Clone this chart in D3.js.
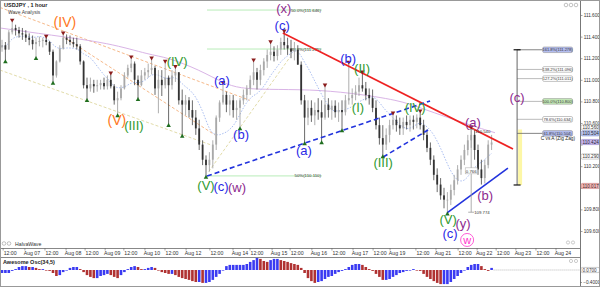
<!DOCTYPE html>
<meta charset="utf-8">
<style>
body { margin: 0; background: #fff; }
svg { display: block; font-family: "Liberation Sans", Arial, sans-serif; }
.tiny { font-size: 5.2px; fill: #333; }
.ax { font-size: 4.7px; fill: #333; }
</style>
<body>
<script src="https://d3js.org/d3.v7.min.js"></script>
<script>
var width = 600,
	height = 287,
	axisX = 580,
	priceBottom = 248,
	timeBottom = 257;

// USDJPY, 2-hour bars (Aug 06 - Aug 22)
var firstOpen = 111.30;
var closes = [
	111.32,111.28,111.44,111.48,111.46,111.43,111.42,111.39,111.37,111.33,
	111.35,111.36,111.37,111.35,111.26,111.04,111.17,111.29,111.39,111.37,
	111.35,111.33,111.31,111.17,110.95,110.92,110.96,110.94,110.95,110.97,
	110.94,111.00,110.94,110.81,110.83,110.92,111.04,111.11,111.15,111.00,
	110.95,111.04,111.07,111.09,111.11,110.92,111.00,110.95,111.02,110.95,
	111.04,111.07,110.81,110.77,110.81,110.72,110.65,110.55,110.40,110.26,
	110.21,110.26,110.40,110.65,110.79,110.86,110.77,110.81,110.72,110.74,
	110.81,110.86,110.92,111.00,111.07,111.00,111.09,111.17,111.23,111.26,
	111.22,111.28,111.35,111.32,111.29,111.26,111.28,111.14,110.81,110.65,
	110.74,110.67,110.72,110.70,110.65,110.77,110.72,110.76,110.70,110.72,
	110.70,110.81,110.83,110.86,110.89,110.95,110.92,110.86,110.83,110.74,
	110.58,110.46,110.40,110.49,110.58,110.63,110.58,110.55,110.61,110.58,
	110.63,110.61,110.65,110.58,110.49,110.37,110.26,110.12,110.03,109.93,
	109.89,109.89,109.98,110.07,110.17,110.26,110.35,110.44,110.49,110.35,
	110.17,110.09,110.21,110.40,110.42];
var highs = [
	111.37,111.35,111.46,111.54,111.51,111.49,111.48,111.46,111.43,111.41,
	111.39,111.40,111.39,111.39,111.36,111.28,111.18,111.32,111.42,111.42,
	111.41,111.39,111.39,111.33,111.18,111.02,111.02,111.00,111.00,111.00,
	111.02,111.04,111.05,110.96,110.89,110.95,111.07,111.14,111.20,111.17,
	111.04,111.09,111.11,111.15,111.19,111.13,111.09,111.09,111.16,111.04,
	111.09,111.11,111.07,110.91,110.86,110.84,110.81,110.72,110.63,110.44,
	110.30,110.33,110.44,110.67,110.81,110.96,110.89,110.86,110.86,110.81,
	110.83,110.91,110.95,111.04,111.17,111.11,111.14,111.20,111.28,111.34,
	111.31,111.32,111.39,111.44,111.39,111.37,111.35,111.32,111.17,110.86,
	110.81,110.81,110.79,110.83,110.81,110.94,110.83,110.81,110.81,110.79,
	110.81,110.86,111.15,110.92,110.95,111.02,111.06,110.98,110.92,110.91,
	110.81,110.65,110.58,110.55,110.63,110.68,110.67,110.65,110.65,110.67,
	110.67,110.67,110.68,110.70,110.63,110.54,110.42,110.30,110.18,110.09,
	110.00,109.96,110.03,110.12,110.21,110.30,110.40,110.49,110.55,110.54,
	110.40,110.26,110.26,110.44,110.49];
var lows = [
	111.26,111.18,111.28,111.42,111.41,111.39,111.37,111.35,111.32,111.28,
	111.21,111.31,111.30,111.32,111.23,110.98,111.02,111.16,111.28,111.33,
	111.32,111.30,111.28,111.14,110.92,110.82,110.89,110.88,110.89,110.91,
	110.91,110.91,110.92,110.77,110.68,110.81,110.91,111.02,111.07,110.95,
	110.83,110.94,111.00,111.02,111.05,110.86,110.69,110.85,110.92,110.59,
	110.91,110.98,110.77,110.49,110.67,110.65,110.58,110.49,110.35,110.21,
	110.11,110.15,110.18,110.35,110.61,110.77,110.70,110.67,110.65,110.63,
	110.56,110.77,110.81,110.86,110.95,110.91,110.95,111.04,111.11,111.18,
	111.17,111.18,111.23,111.28,111.23,111.20,111.18,111.14,110.77,110.42,
	110.58,110.61,110.58,110.63,110.43,110.63,110.65,110.63,110.65,110.61,
	110.54,110.67,110.77,110.77,110.81,110.85,110.89,110.81,110.77,110.70,
	110.54,110.40,110.30,110.35,110.42,110.54,110.52,110.49,110.49,110.54,
	110.52,110.54,110.55,110.54,110.44,110.33,110.21,110.07,109.96,109.89,
	109.81,109.77,109.84,109.93,110.03,110.12,110.21,110.30,110.37,110.26,
	110.12,110.03,110.04,110.18,110.35];
// Awesome Oscillator (34,5), one value per bar
var ao = [
	-0.10,-0.10,-0.10,-0.03,0.03,0.10,0.13,0.13,0.10,0.10,
	0.07,0.03,0.03,0.00,-0.03,-0.10,-0.20,-0.17,-0.07,0.00,
	0.07,0.10,0.10,0.03,-0.07,-0.17,-0.23,-0.27,-0.27,-0.20,
	-0.17,-0.13,-0.17,-0.23,-0.27,-0.17,-0.07,0.03,0.10,0.13,
	0.10,0.03,0.03,0.07,0.10,0.07,0.00,-0.07,-0.10,-0.13,
	-0.13,-0.17,-0.23,-0.27,-0.30,-0.33,-0.37,-0.40,-0.40,-0.43,
	-0.43,-0.40,-0.33,-0.23,-0.13,0.00,0.13,0.17,0.17,0.17,
	0.17,0.17,0.20,0.27,0.33,0.40,0.37,0.30,0.27,0.33,
	0.37,0.37,0.33,0.30,0.27,0.23,0.20,0.17,0.07,-0.10,
	-0.27,-0.37,-0.43,-0.40,-0.37,-0.30,-0.23,-0.20,-0.13,-0.07,
	-0.03,0.03,0.10,0.17,0.20,0.20,0.17,0.10,0.03,-0.03,
	-0.13,-0.23,-0.33,-0.33,-0.30,-0.23,-0.17,-0.10,-0.07,-0.03,
	0.00,0.03,0.00,-0.03,-0.13,-0.23,-0.30,-0.37,-0.43,-0.47,
	-0.47,-0.47,-0.40,-0.30,-0.20,-0.10,0.00,0.10,0.17,0.20,
	0.20,0.13,0.03,-0.03,0.07];

var timeLabels = ["12:00","Aug 07","12:00","Aug 08","12:00","Aug 09","12:00","Aug 10","12:00","Aug 12",
	"12:00","Aug 14","12:00","Aug 15","12:00","Aug 16","12:00","Aug 17","12:00","Aug 19",
	"12:00","Aug 21","12:00","Aug 22","12:00","Aug 23","12:00","Aug 24"];
var timeAt = [2.4,8.8,14.7,20.9,26.5,32.4,37.9,44.1,50,56.2,
	63.2,70,75,81.5,86.8,93.2,99.1,105.3,111.2,116.2,
	123.8,129.7,136.2,141.8,147.4,153.2,159.1,165];
var priceTicks = [109.6,109.8,110.0,110.2,110.4,110.6,110.8,111.0,111.2,111.4,111.6];
var aoTicks = [-0.4];

// swing markers
var topPivots = [3,13,18,32,38,44,48,51,65,74,79,83,95,102,106,115,123,138];
var bottomPivots = [1,10,15,25,34,40,49,53,60,70,89,94,100,112,131];

// wave labels: text, degree, bar, price
var waveText = ["(IV)","(V)","(III)","(IV)","(V)","(c)","(w)","(a)","(b)","(c)","(x)","(a)","(b)","(II)","(I)",
	"(III)","(IV)","(V)","(c)","(y)","w","(a)","(b)","(c)"];
var waveDegree = ["inter","inter","minor","minor","minor","minute","primary","minute","minute","minute","primary","minute","minute","minor","minor",
	"minor","minor","minor","minute","primary","circle","primary","primary","primary"];
var waveAt = [18.5,33.8,38.8,51.5,60,64.4,69.1,64.7,70.3,82.4,82.9,88.8,101.8,105.9,104.7,
	112.1,121.5,131.2,131.8,135.6,136.8,138.5,142.1,151.5];
var wavePrice = [111.535,110.628,110.581,111.174,110.026,110.017,110.007,110.998,110.498,111.507,111.665,110.350,111.202,111.109,110.748,
	110.239,110.748,109.711,109.581,109.674,109.517,110.609,109.933,110.841];

// trend lines: kind, from bar/price, to bar/price
var trendKind = ["resistance","supportDash","supportDash","support"];
var trendFrom = [82.6,60.3,112.1,130.9];
var trendFromPrice = [111.433,110.109,110.285,109.767];
var trendTo = [150.3,125.9,125.3,148.8];
var trendToPrice = [110.359,110.804,110.535,110.183];

// older channel / fan lines
var guideKind = ["fan","fan","channel","channel"];
var guideFrom = [-0.6,17.9,-0.6,60.8];
var guideFromPrice = [111.67,111.40,111.09,110.15];
var guideTo = [72.9,62.6,61.2,84.7];
var guideToPrice = [110.81,110.49,110.40,111.21];

// slow moving average
var slowAt = [-0.6,14.1,31.8,43.5,48.5,58.2,65,70,77.9,90.6,102.4,117,123,137.6,145];
var slowVal = [111.48,111.415,111.34,111.23,111.21,111.09,110.97,110.92,110.91,110.91,110.88,110.81,110.74,110.58,110.51];

// retracement levels
var retrLabel = ["50.0%(111.646)","38.2%(111.285)","50%(110.110)"];
var retrPrice = [111.646,111.285,110.110];
var retrFrom = 60.3, retrTo = 94.1;

// C vs A (zig zag) projection
var fibRatio = ["161.8%","138.2%","127.2%","100.0%","78.6%","61.8%"];
var fibPrice = [111.278,111.096,111.011,110.800,110.634,110.504];
var fibB = 110.026;
var fibBar = 151.5;

// (a) leg measurement
var measureBar = 138;
var measureHigh = 110.540, measureLow = 109.774;

// right axis marks
var markPrice = [110.560,110.504,110.424,110.290,110.017];
var markKind = ["line","fib","bid","line","order"];

var svg = d3.select("body").append("svg")
			.attr("width", width)
			.attr("height", height);

var defs = svg.append("defs");
defs.append("clipPath").attr("id", "clipPrice")
	.append("rect").attr("x", 0).attr("y", 0).attr("width", axisX).attr("height", priceBottom);
defs.append("clipPath").attr("id", "clipAO")
	.append("rect").attr("x", 0).attr("y", timeBottom).attr("width", axisX).attr("height", height - timeBottom);

var x = d3.scaleLinear().domain([0, 144]).range([2, 491.6]);
var y = d3.scaleLinear().domain([109.6, 111.6]).range([231, 15]);
var yAO = d3.scaleLinear().domain([-0.4, 0]).range([282, 270]);

var price = svg.append("g").attr("clip-path", "url(#clipPrice)");

// guide lines behind everything
var guideColor = {fan: "#f6b98a", channel: "#e2dcaa"};
price.selectAll("line.guide")
	.data(guideKind)
	.enter().append("line")
	.attr("class", "guide")
	.attr("x1", function(d, i) { return x(guideFrom[i]); })
	.attr("y1", function(d, i) { return y(guideFromPrice[i]); })
	.attr("x2", function(d, i) { return x(guideTo[i]); })
	.attr("y2", function(d, i) { return y(guideToPrice[i]); })
	.style("stroke", function(d) { return guideColor[d]; })
	.style("stroke-width", 1)
	.style("stroke-dasharray", "3,2");

// slow MA
price.append("path")
	.datum(slowAt.map(function(d, i) { return [d, slowVal[i]]; }))
	.attr("d", d3.line().x(function(d) { return x(d[0]); }).y(function(d) { return y(d[1]); }).curve(d3.curveBasis))
	.style("fill", "none")
	.style("stroke", "#d9b4e6")
	.style("stroke-width", 1);

// fast MA of closes (10 bars)
var fast = closes.map(function(c, i) {
	var s = closes.slice(Math.max(0, i - 9), i + 1);
	return [i, d3.mean(s)];
});
price.append("path")
	.datum(fast)
	.attr("d", d3.line().x(function(d) { return x(d[0]); }).y(function(d) { return y(d[1]); }).curve(d3.curveBasis))
	.style("fill", "none")
	.style("stroke", "#9fb6ee")
	.style("stroke-width", 0.9)
	.style("stroke-dasharray", "1.5,1.5");

// retracement lines
price.selectAll("line.retr")
	.data(retrPrice)
	.enter().append("line")
	.attr("x1", x(retrFrom))
	.attr("x2", x(retrTo))
	.attr("y1", function(d) { return y(d); })
	.attr("y2", function(d) { return y(d); })
	.style("stroke", "#b8ecb8")
	.style("stroke-width", 1);
price.selectAll("text.retr")
	.data(retrLabel)
	.enter().append("text")
	.attr("class", "tiny")
	.attr("x", x(retrTo) - 1)
	.attr("y", function(d, i) { return y(retrPrice[i]) + 1.5; })
	.attr("text-anchor", "end")
	.style("font-size", "4.3px")
	.text(function(d) { return d; });

// candles
var bars = closes.map(function(c, i) {
	var o = i ? closes[i - 1] : firstOpen;
	return {i: i, o: o, c: c, h: Math.max(highs[i], o, c), l: Math.min(lows[i], o, c)};
});
var candle = price.selectAll("g.candle")
	.data(bars)
	.enter().append("g")
	.attr("class", "candle");
candle.append("line")
	.attr("x1", function(d) { return x(d.i); })
	.attr("x2", function(d) { return x(d.i); })
	.attr("y1", function(d) { return y(d.h); })
	.attr("y2", function(d) { return y(d.l); })
	.style("stroke", function(d) { return d.c >= d.o ? "#999" : "#444"; })
	.style("stroke-width", 0.8);
candle.append("rect")
	.attr("x", function(d) { return x(d.i) - 0.9; })
	.attr("width", 1.8)
	.attr("y", function(d) { return y(Math.max(d.o, d.c)); })
	.attr("height", function(d) { return Math.max(0.8, Math.abs(y(d.o) - y(d.c))); })
	.style("fill", function(d) { return d.c >= d.o ? "#a9a9a9" : "#333"; })
	.style("stroke", "none");

// trend lines
var trendStyle = {
	resistance: {c: "#ee2222", w: 1.6, dash: null},
	supportDash: {c: "#2233dd", w: 1.6, dash: "5,3"},
	support: {c: "#2233dd", w: 1.6, dash: null}
};
price.selectAll("line.trend")
	.data(trendKind)
	.enter().append("line")
	.attr("x1", function(d, i) { return x(trendFrom[i]); })
	.attr("y1", function(d, i) { return y(trendFromPrice[i]); })
	.attr("x2", function(d, i) { return x(trendTo[i]); })
	.attr("y2", function(d, i) { return y(trendToPrice[i]); })
	.style("stroke", function(d) { return trendStyle[d].c; })
	.style("stroke-width", function(d) { return trendStyle[d].w; })
	.style("stroke-dasharray", function(d) { return trendStyle[d].dash; });

// swing markers
price.selectAll("path.top")
	.data(topPivots)
	.enter().append("path")
	.attr("d", d3.symbol(d3.symbolTriangle, 9))
	.attr("transform", function(d) { return "translate(" + x(d) + "," + (y(highs[d]) - 1.5) + ")rotate(180)"; })
	.style("fill", "#8b1c1c");
price.selectAll("path.bottom")
	.data(bottomPivots)
	.enter().append("path")
	.attr("d", d3.symbol(d3.symbolTriangle, 9))
	.attr("transform", function(d) { return "translate(" + x(d) + "," + (y(lows[d]) + 1.5) + ")"; })
	.style("fill", "#1f6e1f");

// (a) leg measurement
var mx = x(measureBar);
price.append("line")
	.attr("x1", mx).attr("x2", mx)
	.attr("y1", y(measureHigh)).attr("y2", y(measureLow))
	.style("stroke", "#999").style("stroke-width", 0.8);
price.selectAll("line.mtick")
	.data([measureHigh, measureLow])
	.enter().append("line")
	.attr("x1", mx - 3).attr("x2", mx + 3)
	.attr("y1", function(d) { return y(d); }).attr("y2", function(d) { return y(d); })
	.style("stroke", "#999").style("stroke-width", 0.8);
price.append("rect")
	.attr("x", mx - 6).attr("y", y((measureHigh + measureLow) / 2) - 3)
	.attr("width", 12).attr("height", 6)
	.style("fill", "#fff").style("stroke", "#aaa").style("stroke-width", 0.5);
price.append("text").attr("class", "tiny")
	.attr("x", mx).attr("y", y((measureHigh + measureLow) / 2) + 1.7)
	.attr("text-anchor", "middle").style("font-size", "4.3px")
	.text(d3.format(".3f")(measureHigh - measureLow));
price.append("text").attr("class", "tiny")
	.attr("x", mx + 4).attr("y", y(measureHigh) + 4)
	.style("font-size", "4.3px")
	.text(d3.format(".3f")(measureHigh));
price.append("text").attr("class", "tiny")
	.attr("x", mx + 3).attr("y", y(measureLow) + 1.5)
	.style("font-size", "4.3px")
	.text(d3.format(".3f")(measureLow));

// projection box
var fx = x(fibBar);
price.append("rect")
	.attr("x", fx + 1).attr("width", 4)
	.attr("y", y(measureHigh)).attr("height", y(fibB) - y(measureHigh))
	.style("fill", "#fdf7a6");
price.selectAll("line.fib")
	.data(fibPrice)
	.enter().append("line")
	.attr("x1", fx).attr("x2", x(159))
	.attr("y1", function(d) { return y(d); }).attr("y2", function(d) { return y(d); })
	.style("stroke", function(d, i) { return i === 0 || i === 5 ? "#666" : "#aaa"; })
	.style("stroke-width", 0.8);
price.append("line")
	.attr("x1", fx).attr("x2", fx)
	.attr("y1", y(fibPrice[0])).attr("y2", y(fibB))
	.style("stroke", "#555").style("stroke-width", 0.9);
price.selectAll("line.fend")
	.data([fibPrice[0], fibB])
	.enter().append("line")
	.attr("x1", fx - 3.5).attr("x2", fx + 3.5)
	.attr("y1", function(d) { return y(d); }).attr("y2", function(d) { return y(d); })
	.style("stroke", "#111").style("stroke-width", 1.2);
var fibFill = ["#b3bdf0", "#fff", "#fff", "#c6ecb9", "#fff", "#b3bdf0"];
var fibBox = price.selectAll("g.fibbox")
	.data(fibPrice)
	.enter().append("g")
	.attr("transform", function(d) { return "translate(" + x(159) + "," + y(d) + ")"; });
fibBox.append("rect")
	.attr("x", 0).attr("y", -2.8).attr("width", 30).attr("height", 5.6).attr("rx", 1.5)
	.style("fill", function(d, i) { return fibFill[i]; })
	.style("stroke", "#888").style("stroke-width", 0.5);
fibBox.append("text")
	.attr("class", "tiny")
	.attr("x", 15).attr("y", 1.5)
	.attr("text-anchor", "middle")
	.style("font-size", "4px")
	.text(function(d, i) { return fibRatio[i] + "(" + d3.format(".3f")(d) + ")"; });
price.append("text")
	.attr("x", x(163.5)).attr("y", y(fibPrice[5]) + 7)
	.attr("text-anchor", "middle")
	.style("font-size", "4.8px").style("fill", "#222")
	.text("C vs A (Zig Zag)");

// wave labels
var degStyle = {
	inter: {c: "#ff7722", s: 14},
	minor: {c: "#2f9a2f", s: 13},
	minute: {c: "#2a2ae6", s: 13},
	primary: {c: "#8e2a8e", s: 13},
	circle: {c: "#ff33cc", s: 11}
};
var labels = svg.selectAll("g.wave")
	.data(waveText)
	.enter().append("g")
	.attr("class", "wave")
	.attr("transform", function(d, i) { return "translate(" + x(waveAt[i]) + "," + y(wavePrice[i]) + ")"; });
labels.filter(function(d, i) { return waveDegree[i] === "circle"; })
	.append("circle")
	.attr("r", 6.5)
	.style("fill", "none")
	.style("stroke", degStyle.circle.c)
	.style("stroke-width", 0.8);
labels.append("text")
	.attr("text-anchor", "middle")
	.attr("dy", "0.35em")
	.style("font-size", function(d, i) { return degStyle[waveDegree[i]].s + "px"; })
	.style("fill", function(d, i) { return degStyle[waveDegree[i]].c; })
	.text(function(d) { return d; });

// header
svg.append("text").attr("x", 4).attr("y", 7)
	.style("font-size", "5.5px").style("font-weight", "bold").style("fill", "#222")
	.text("USDJPY , 1 hour");
svg.append("text").attr("x", 8).attr("y", 13.5)
	.style("font-size", "5px").style("fill", "#444")
	.text("Wave Analysis");
svg.selectAll("circle.icon")
	.data([566, 571, 576])
	.enter().append("circle")
	.attr("cx", function(d) { return d; }).attr("cy", 5).attr("r", 1.8)
	.style("fill", "none").style("stroke", "#999").style("stroke-width", 0.6);

// HalvaWave row
svg.selectAll("circle.hw")
	.data([4, 9])
	.enter().append("circle")
	.attr("cx", function(d) { return d; }).attr("cy", 243.5).attr("r", 1.8)
	.style("fill", "none").style("stroke", "#999").style("stroke-width", 0.6);
svg.append("text").attr("class", "tiny").attr("x", 15).attr("y", 245.5).text("HalvaWave");
svg.selectAll("circle.zm")
	.data([568, 573])
	.enter().append("circle")
	.attr("cx", function(d) { return d; }).attr("cy", 242.5).attr("r", 1.6)
	.style("fill", "none").style("stroke", "#aaa").style("stroke-width", 0.6);

// time axis
svg.selectAll("line.band")
	.data([priceBottom + 0.5, timeBottom + 0.5])
	.enter().append("line")
	.attr("x1", 0).attr("x2", axisX)
	.attr("y1", function(d) { return d; }).attr("y2", function(d) { return d; })
	.style("stroke", "#888").style("stroke-width", 1);
svg.selectAll("line.ttick")
	.data(timeAt)
	.enter().append("line")
	.attr("x1", function(d) { return x(d) - 7; }).attr("x2", function(d) { return x(d) - 7; })
	.attr("y1", priceBottom).attr("y2", priceBottom + 2.5)
	.style("stroke", "#666").style("stroke-width", 0.6);
svg.selectAll("text.time")
	.data(timeLabels)
	.enter().append("text")
	.attr("class", "tiny")
	.attr("x", function(d, i) { return x(timeAt[i]); })
	.attr("y", 254.8)
	.attr("text-anchor", "middle")
	.text(function(d) { return d; });

// price axis
var pAxis = svg.append("g")
	.attr("transform", "translate(" + axisX + ",0)")
	.call(d3.axisRight(y).tickValues(d3.range(109.45, 111.7, 0.05)).tickSize(1.5).tickFormat(""));
pAxis.call(d3.axisRight(y).tickValues(priceTicks).tickSize(2.5).tickPadding(1.2).tickFormat(d3.format(".3f")));
pAxis.selectAll("text").attr("class", "ax")
	.style("display", function(d) {
		return markPrice.some(function(m) { return Math.abs(y(m) - y(d)) < 4; }) ? "none" : null;
	});
pAxis.selectAll(".domain").remove();
pAxis.selectAll("line").style("stroke", "#666").style("stroke-width", 0.6);
svg.append("line")
	.attr("x1", axisX + 0.5).attr("x2", axisX + 0.5)
	.attr("y1", 0).attr("y2", height)
	.style("stroke", "#777").style("stroke-width", 1);

var markStyle = {
	line: {f: "#fff", s: "#999", t: "#333"},
	fib: {f: "#b9c6ee", s: "#7a8ad0", t: "#223"},
	bid: {f: "#c7b8ee", s: "#8070c0", t: "#223"},
	order: {f: "#f0b8b8", s: "#c07070", t: "#422"}
};
var marks = svg.selectAll("g.mark")
	.data(markPrice)
	.enter().append("g")
	.attr("transform", function(d) { return "translate(" + (axisX + 1) + "," + y(d) + ")"; });
marks.append("rect")
	.attr("x", 0).attr("y", -2.6).attr("width", 18.5).attr("height", 5.2).attr("rx", 1.5)
	.style("fill", function(d, i) { return markStyle[markKind[i]].f; })
	.style("stroke", function(d, i) { return markStyle[markKind[i]].s; })
	.style("stroke-width", 0.5);
marks.append("text")
	.attr("x", 1.5).attr("y", 1.7)
	.style("font-size", "4.6px")
	.style("fill", function(d, i) { return markStyle[markKind[i]].t; })
	.text(function(d) { return d3.format(".3f")(d); });

// Awesome oscillator
var osc = svg.append("g").attr("clip-path", "url(#clipAO)");
osc.selectAll("rect")
	.data(ao)
	.enter().append("rect")
	.attr("x", function(d, i) { return x(i) - 1.3; })
	.attr("width", 2.6)
	.attr("y", function(d) { return Math.min(yAO(d), yAO(0)); })
	.attr("height", function(d) { return Math.max(0.6, Math.abs(yAO(d) - yAO(0))); })
	.style("fill", function(d, i) { return i && d < ao[i - 1] ? "#b03232" : "#3a3af2"; });
osc.append("line")
	.attr("x1", x(ao.length - 1) + 2).attr("x2", axisX)
	.attr("y1", yAO(0)).attr("y2", yAO(0))
	.style("stroke", "#999").style("stroke-width", 0.7).style("stroke-dasharray", "1,1");
svg.append("text").attr("x", 3).attr("y", 263.5)
	.style("font-size", "5.5px").style("font-weight", "bold").style("fill", "#222")
	.text("Awesome Osc(34,5)");
svg.selectAll("circle.aoicon")
	.data([571, 576])
	.enter().append("circle")
	.attr("cx", function(d) { return d; }).attr("cy", 261).attr("r", 1.6)
	.style("fill", "none").style("stroke", "#aaa").style("stroke-width", 0.6);

var aoAxis = svg.append("g")
	.attr("transform", "translate(" + axisX + ",0)")
	.call(d3.axisRight(yAO).tickValues(aoTicks).tickSize(2).tickPadding(1.2).tickFormat(d3.format(".4f")));
aoAxis.selectAll("text").attr("class", "ax");
aoAxis.selectAll(".domain").remove();
aoAxis.selectAll("line").style("stroke", "#666").style("stroke-width", 0.6);
var aoNow = svg.append("g").attr("transform", "translate(" + (axisX + 1) + "," + yAO(0) + ")");
aoNow.append("rect")
	.attr("x", 0).attr("y", -2.6).attr("width", 18.5).attr("height", 5.2).attr("rx", 1.5)
	.style("fill", "#fff").style("stroke", "#999").style("stroke-width", 0.5);
aoNow.append("text").attr("x", 1.5).attr("y", 1.7)
	.style("font-size", "4.6px").style("fill", "#333")
	.text(d3.format(".4f")(ao[ao.length - 1]));

// frame
svg.append("rect")
	.attr("x", 0.5).attr("y", 0.5)
	.attr("width", width - 1).attr("height", height - 1)
	.style("fill", "none").style("stroke", "#999").style("stroke-width", 1);
</script>
</body>
